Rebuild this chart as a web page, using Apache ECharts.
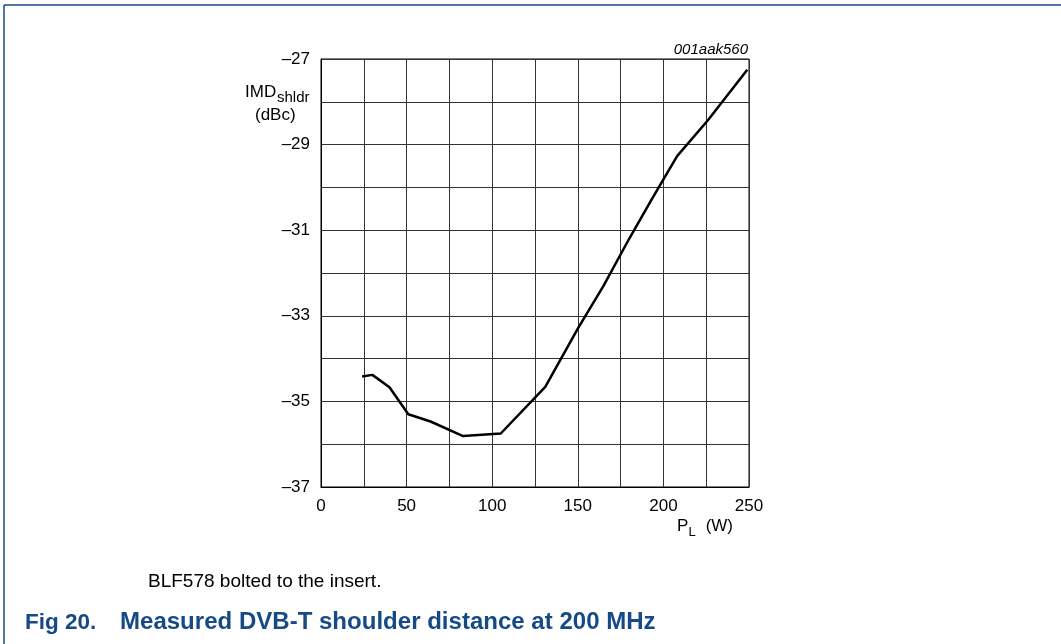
<!DOCTYPE html>
<html>
<head>
<meta charset="utf-8">
<script src="https://cdn.jsdelivr.net/npm/echarts@6/dist/echarts.min.js"></script>
<style>
html,body{margin:0;padding:0;background:#fff;}
#chart{width:1061px;height:644px;}
</style>
</head>
<body>
<div id="chart"></div>
<script>
// Data
const powerW = [24, 30, 40, 51, 64, 83, 105, 131, 150, 165, 180, 193, 208, 226, 249];
const imdShoulder = [-34.42, -34.38, -34.67, -35.3, -35.47, -35.81, -35.75, -34.66, -33.3, -32.3, -31.2, -30.29, -29.27, -28.43, -27.25];
const xTickLabels = [0, 50, 100, 150, 200, 250];
const yTickLabels = [-37, -35, -33, -31, -29, -27];

const FONT = '"Liberation Sans", Arial, sans-serif';
const chart = echarts.init(document.getElementById('chart'), null, {renderer: 'canvas'});

const seriesData = powerW.map((x, i) => [x, imdShoulder[i]]);

function txt(x, y, text, font, align, fill, scaleX) {
  return {type: 'text', x: x, y: y, scaleX: scaleX || 1, style: {
    text: text, font: font, fill: fill || '#000',
    textAlign: align || 'left', textVerticalAlign: 'middle'
  }};
}

chart.setOption({
  animation: false,
  backgroundColor: '#fff',
  grid: {left: 321, top: 59, width: 428, height: 428, containLabel: false,
         show: true, borderColor: '#000', borderWidth: 1},
  xAxis: {
    type: 'value', min: 0, max: 250, interval: 25,
    axisLine: {show: true, lineStyle: {color: '#000', width: 1}},
    axisTick: {show: false},
    splitLine: {show: true, lineStyle: {color: '#333', width: 1}},
    axisLabel: {
      margin: 11, color: '#000', fontSize: 17, fontFamily: FONT,
      formatter: v => xTickLabels.includes(v) ? String(v) : ''
    }
  },
  yAxis: {
    type: 'value', min: -37, max: -27, interval: 1,
    axisLine: {show: true, lineStyle: {color: '#000', width: 1}},
    axisTick: {show: false},
    splitLine: {show: true, lineStyle: {color: '#333', width: 1}},
    axisLabel: {
      margin: 11, color: '#000', fontSize: 17, fontFamily: FONT,
      formatter: v => yTickLabels.includes(v) ? '\u2013' + Math.abs(v) : ''
    }
  },
  series: [{
    type: 'line', data: seriesData, showSymbol: false, smooth: false,
    lineStyle: {color: '#000', width: 2.5}
  }],
  graphic: [
    {type: 'line', shape: {x1: 4, y1: 5, x2: 1061, y2: 5}, style: {stroke: '#154a87', lineWidth: 1.5}},
    {type: 'line', shape: {x1: 4, y1: 5, x2: 4, y2: 644}, style: {stroke: '#154a87', lineWidth: 1.5}},
    txt(748, 49.5, '001aak560', 'italic 15px ' + FONT, 'right'),
    txt(245, 92.5, 'IMD', '17px ' + FONT),
    txt(277, 98, 'shldr', '15px ' + FONT),
    txt(255, 115, '(dBc)', '17px ' + FONT),
    txt(677, 526, 'P', '17px ' + FONT),
    txt(688.5, 532, 'L', '13px ' + FONT),
    txt(733, 526, '(W)', '17px ' + FONT, 'right'),
    txt(148, 581.5, 'BLF578 bolted to the insert.', '19px ' + FONT),
    txt(25, 623, 'Fig 20.', 'bold 22.5px ' + FONT, 'left', '#154a87'),
    txt(120, 623, 'Measured DVB-T shoulder distance at 200 MHz', 'bold 23px ' + FONT, 'left', '#154a87', 1.045)
  ]
});
</script>
</body>
</html>
